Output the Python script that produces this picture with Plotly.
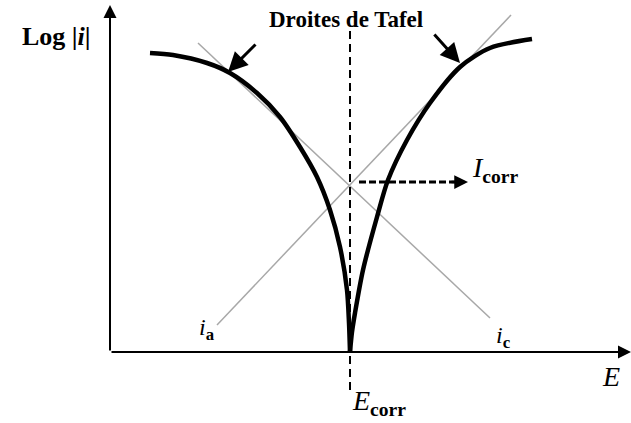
import plotly.graph_objects as go

# schematic Tafel plot, E relative to Ecorr, log|i| relative to the E axis
branch_c_E = [-200, -177, -143, -120, -93, -70, -50, -33, -20, -10, -3, -1, 0]
branch_c_L = [299, 297, 289, 279, 259, 235, 205, 175, 142, 105, 62, 29, 0]
branch_a_E = [0, 2, 5, 13, 27, 38, 57, 80, 110, 140, 182]
branch_a_L = [0, 20, 39, 82, 135, 172, 212, 249, 285, 304, 313]

tafel_c_E = [-152, 140]
tafel_c_L = [309, 34]
tafel_a_E = [-133, 161]
tafel_a_L = [27, 337]

E_corr = 0
L_corr = 170

fig = go.Figure()

fig.add_trace(go.Scatter(x=tafel_c_E, y=tafel_c_L, mode='lines',
                         line=dict(color='#a8a8a8', width=1.5)))
fig.add_trace(go.Scatter(x=tafel_a_E, y=tafel_a_L, mode='lines',
                         line=dict(color='#a8a8a8', width=1.5)))
fig.add_trace(go.Scatter(x=branch_c_E, y=branch_c_L, mode='lines',
                         line=dict(color='black', width=4.5, shape='spline', smoothing=0.8)))
fig.add_trace(go.Scatter(x=branch_a_E, y=branch_a_L, mode='lines',
                         line=dict(color='black', width=4.5, shape='spline', smoothing=0.8)))

# vertical dashed line at Ecorr
fig.add_shape(type='line', x0=E_corr, x1=E_corr, y0=-38, y1=322,
              line=dict(color='black', width=2, dash='8px,5px'))
# dashed arrow towards Icorr
fig.add_shape(type='line', x0=E_corr + 9, x1=E_corr + 108, y0=L_corr, y1=L_corr,
              line=dict(color='black', width=3, dash='7px,3px'))

serif = 'Liberation Serif, Times New Roman, serif'

def arrow(x, y, ax, ay, w=2, size=1.2, head=2):
    fig.add_annotation(x=x, y=y, ax=ax, ay=ay, xref='x', yref='y', axref='x', ayref='y',
                       text='', showarrow=True, arrowhead=head, arrowsize=size,
                       arrowwidth=w, arrowcolor='black')

# axes
arrow(-240, 347, -240, 0, w=2, size=1.3)
arrow(281, 0, -240, 0, w=2, size=1.3)
arrow(E_corr + 118, L_corr, E_corr + 100, L_corr, w=2.5, size=1.1)
# Tafel pointers
arrow(-122, 280, -93, 309, w=3, size=1.3)
arrow(110, 289, 83, 319, w=3, size=1.3)

def label(x, y, t, size, xa='center'):
    fig.add_annotation(x=x, y=y, xref='x', yref='y', text=t, showarrow=False,
                       xanchor=xa, yanchor='middle', font=dict(family=serif, size=size, color='black'))

label(-294, 316, '<b>Log |<i>i</i>|</b>', 26)
label(-4, 333, '<b>Droites de Tafel</b>', 23)
label(120, 183, '<i>I</i><sub><b>corr</b></sub>', 28, xa='left')
label(0, -50, '<i>E</i><sub><b>corr</b></sub>', 28, xa='left')
label(261, -24, '<i>E</i>', 28)
label(-143, 23, '<i>i</i><sub><b>a</b></sub>', 24)
label(153, 15, '<i>i</i><sub><b>c</b></sub>', 24)

fig.update_layout(width=631, height=423, showlegend=False,
                  margin=dict(l=0, r=0, t=0, b=0),
                  paper_bgcolor='white', plot_bgcolor='white',
                  xaxis=dict(range=[-350, 281], visible=False),
                  yaxis=dict(range=[-71, 352], visible=False))

fig.write_html("out.html", config={'displayModeBar': False},
               post_script="document.body.style.margin='0';")
